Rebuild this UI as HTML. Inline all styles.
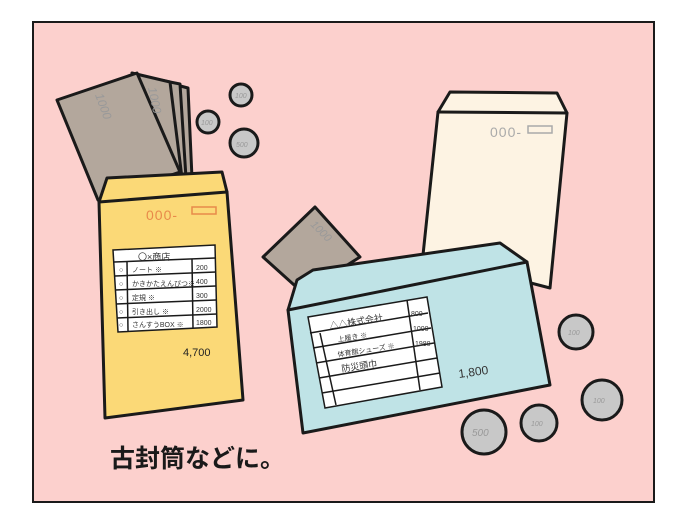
<!DOCTYPE html>
<html><head><meta charset="utf-8"><style>
html,body{margin:0;padding:0;background:#fff;width:690px;height:523px;overflow:hidden}
svg{display:block}
text{font-family:"Liberation Sans","Noto Sans CJK JP",sans-serif}
</style></head><body>
<svg width="690" height="523" viewBox="0 0 690 523" xmlns="http://www.w3.org/2000/svg">
<rect x="33" y="22" width="621" height="480" fill="#fcd0cd" stroke="#1a1a1a" stroke-width="2"/>
<g stroke="#1a1a1a" stroke-width="3" stroke-linejoin="round" stroke-linecap="round">
<!-- bills yellow -->
<polygon points="150,78 188,88 192,178 160,178" fill="#b3a79c"/>
<polygon points="140,76 180,84 186,178 150,178" fill="#b3a79c"/>
<polygon points="132,73 170,82 182,178 140,178" fill="#b3a79c"/>
<polygon points="57,100 137,73 180,172 98,200" fill="#b3a79c"/>
<!-- coins top -->
<circle cx="241" cy="95" r="11" fill="#c8c8c8"/>
<circle cx="208" cy="122" r="11" fill="#c8c8c8"/>
<circle cx="244" cy="143" r="14" fill="#c8c8c8"/>
<!-- yellow envelope -->
<polygon points="107,178 222,172 227,192 243,400 105,418 99,202" fill="#fbd977"/>
<polyline points="99,202 227,192" fill="none"/>
<!-- cream envelope -->
<polygon points="450,92 557,93 567,113 550,288 423,255 438,112" fill="#fdf3e3"/>
<polyline points="438,112 567,113" fill="none"/>
<!-- brown bill -->
<polygon points="263,257 315,207 360,257 303,293" fill="#b3a79c"/>
<!-- blue envelope -->
<polygon points="297,280 313,270 500,243 527,262 550,385 303,433 288,310" fill="#bfe3e6"/>
<polyline points="288,310 527,262" fill="none"/>
</g>
<!-- yellow table -->
<g stroke="#1a1a1a" stroke-width="1.5" fill="none">
<polygon points="113,250 215,245 217,327 118,332" fill="#fff"/>
<line x1="114" y1="262" x2="215" y2="258"/>
<line x1="115" y1="276" x2="216" y2="272"/>
<line x1="115" y1="290" x2="216" y2="286"/>
<line x1="116" y1="304" x2="216" y2="300"/>
<line x1="117" y1="318" x2="217" y2="314"/>
<line x1="127" y1="262" x2="128" y2="331"/>
<line x1="192" y1="259" x2="193" y2="328"/>
</g>
<g font-size="7" fill="#333">
<text x="138" y="260" font-size="9">〇×商店</text>
<text x="132" y="272">ノート ※</text><text x="196" y="270">200</text>
<text x="132" y="286">かきかたえんぴつ※</text><text x="196" y="284">400</text>
<text x="132" y="300">定規 ※</text><text x="196" y="298">300</text>
<text x="132" y="314">引き出し ※</text><text x="196" y="312">2000</text>
<text x="132" y="327">さんすうBOX ※</text><text x="196" y="325">1800</text>
<text x="119" y="272">○</text><text x="119" y="286">○</text><text x="119" y="300">○</text><text x="119" y="314">○</text><text x="119" y="327">○</text>
</g>
<text x="183" y="356" font-size="11" fill="#222">4,700</text>
<text x="146" y="220" font-size="14" fill="#e88a4a" letter-spacing="1">000-</text>
<rect x="192" y="207" width="24" height="7" fill="none" stroke="#e88a4a" stroke-width="1.5"/>
<text x="490" y="137" font-size="14" fill="#aaa" letter-spacing="1">000-</text>
<rect x="528" y="126" width="24" height="7" fill="none" stroke="#aaa" stroke-width="1.5"/>
<!-- blue table -->
<g stroke="#1a1a1a" stroke-width="1.5" fill="none">
<polygon points="308,317 427,297 442,387 325,408" fill="#fff"/>
<line x1="310" y1="333" x2="428" y2="313"/>
<line x1="313" y1="348" x2="431" y2="328"/>
<line x1="316" y1="363" x2="434" y2="343"/>
<line x1="319" y1="378" x2="437" y2="358"/>
<line x1="322" y1="393" x2="440" y2="373"/>
<line x1="320" y1="333" x2="336" y2="405"/>
<line x1="407" y1="300" x2="420" y2="390"/>
</g>
<g font-size="7" fill="#333">
<text x="330" y="329" font-size="9" transform="rotate(-9 330 329)">△△株式会社</text>
<text x="338" y="342" transform="rotate(-9 338 342)">上履き ※</text>
<text x="338" y="357" transform="rotate(-9 338 357)">体育館シューズ ※</text>
<text x="342" y="372" font-size="9" transform="rotate(-9 342 372)">防災頭巾</text>
<text x="411" y="316">800</text><text x="413" y="331">1000</text><text x="415" y="346">1980</text>
</g>
<text x="459" y="378" font-size="12" fill="#333" transform="rotate(-8 459 378)">1,800</text>
<!-- coins right -->
<g stroke="#1a1a1a" stroke-width="3" fill="#c8c8c8">
<circle cx="576" cy="332" r="17"/>
<circle cx="602" cy="400" r="20"/>
<circle cx="539" cy="423" r="18"/>
<circle cx="484" cy="432" r="22"/>
</g>
<g font-size="7" fill="#999" font-style="italic">
<text x="235" y="98">100</text><text x="201" y="125">100</text><text x="236" y="147">500</text>
<text x="568" y="335">100</text><text x="593" y="403">100</text><text x="531" y="426">100</text><text x="472" y="436" font-size="10">500</text>
<text x="95" y="95" font-size="12" transform="rotate(70 95 95)">1000</text>
<text x="148" y="88" font-size="12" transform="rotate(78 148 88)">1000</text>
<text x="310" y="225" font-size="11" transform="rotate(45 310 225)">1000</text>
</g>
<text x="110" y="467" font-size="25" fill="#1a1a1a" font-weight="bold">古封筒などに。</text>
</svg>
</body></html>
